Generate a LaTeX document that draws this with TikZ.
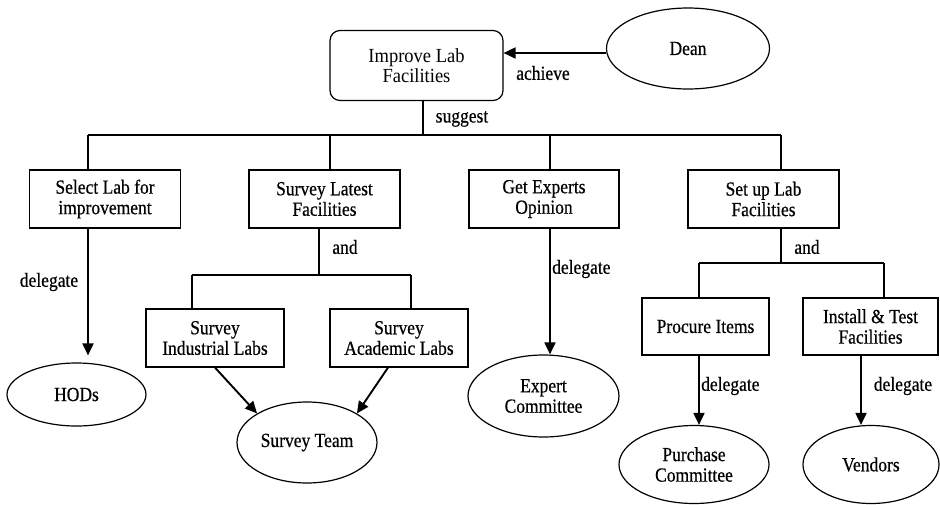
\documentclass[tikz,border=0pt]{standalone}
\usepackage{fontspec}
\setmainfont{Liberation Serif}
\newfontfamily\dfont[FakeStretch=0.875, FakeBold=0.5]{Liberation Serif}
\newfontfamily\rfont[FakeStretch=0.925]{Liberation Serif}
\usetikzlibrary{shapes.geometric,arrows.meta}
\begin{document}
\begin{tikzpicture}[x=1pt,y=-1pt,
  every node/.style={font=\dfont\fontsize{20}{20.5}\selectfont, align=center, inner sep=0pt},
  box/.style={draw, line width=1.2pt, minimum width=151pt, minimum height=58pt},
  oval/.style={draw, ellipse, line width=1.2pt},
  tree/.style={line width=1.2pt},
  arr/.style={line width=1.9pt, -{Triangle[length=12pt,width=11pt]}},
  lbl/.style={}
]
\useasboundingbox (0,0) rectangle (940,504);

% nodes
\node[box, rounded corners=10pt, minimum width=173pt, minimum height=70pt,
      font=\rfont\fontsize{20}{20.5}\selectfont] (root) at (416.5,65.5) {Improve Lab\\Facilities};
\node[oval, minimum width=163pt, minimum height=81pt] (dean) at (688,48.5) {Dean};

\node[box] (sel) at (105,199) {Select Lab for\\improvement};
\node[box] (slf) at (324.5,199) {Survey Latest\\Facilities};
\node[box, minimum width=150pt] (gexp) at (544,199) {Get Experts\\Opinion};
\node[box] (setup) at (763.5,199) {Set up Lab\\Facilities};

\node[box, minimum width=138pt] (ind) at (215,338) {Survey\\Industrial Labs};
\node[box, minimum width=138pt] (acad) at (399,338) {Survey\\Academic Labs};
\node[box, minimum width=127pt, minimum height=57pt] (proc) at (705.5,326.5) {Procure Items};
\node[box, minimum width=135pt, minimum height=57pt] (inst) at (870.5,326.5) {Install \& Test\\Facilities};

\node[oval, minimum width=139pt, minimum height=63pt] (hod) at (76.5,394.5) {HODs};
\node[oval, minimum width=140pt, minimum height=81pt] (team) at (307,442.5) {Survey Team};
\node[oval, minimum width=151pt, minimum height=82pt] (expc) at (543.5,396) {Expert\\Committee};
\node[oval, minimum width=150pt, minimum height=78pt] (purch) at (694,464.5) {Purchase\\Committee};
\node[oval, minimum width=136pt, minimum height=78pt] (vend) at (871,464.5) {Vendors};

% helper coordinates
\coordinate (ach) at (607,53);
\coordinate (b0) at (423,135);
\coordinate (bL) at (88,135);
\coordinate (b2) at (330,135);
\coordinate (b3) at (550,135);
\coordinate (bR) at (781,135);
\coordinate (c0) at (319,275);
\coordinate (cL) at (192,275);
\coordinate (cR) at (411,275);
\coordinate (d0) at (781,263);
\coordinate (dL) at (699,263);
\coordinate (dR) at (884,263);
\coordinate (vx) at (861,0);

% achieve
\draw[arr] (dean.west |- ach) -- (root.east |- ach);
\node[lbl] at (543,73) {achieve};

% suggest tree
\draw[tree] (root.south -| b0) -- (b0);
\draw[tree] (bL) -- (bR);
\draw[tree] (bL) -- (bL |- sel.north);
\draw[tree] (b2) -- (b2 |- slf.north);
\draw[tree] (b3) -- (b3 |- gexp.north);
\draw[tree] (bR) -- (bR |- setup.north);
\node[lbl] at (462,119) {suggest};

% and (survey)
\draw[tree] (slf.south -| c0) -- (c0);
\draw[tree] (cL) -- (cR);
\draw[tree] (cL) -- (cL |- ind.north);
\draw[tree] (cR) -- (cR |- acad.north);
\node[lbl] at (345,247) {and};

% and (set up)
\draw[tree] (setup.south -| d0) -- (d0);
\draw[tree] (dL) -- (dR);
\draw[tree] (dL) -- (dL |- proc.north);
\draw[tree] (dR) -- (dR |- inst.north);
\node[lbl] at (807,247) {and};

% delegations
\draw[arr, shorten >=7pt] (sel.south -| bL) -- (bL |- hod.north);
\node[lbl] at (49,282) {delegate};
\draw[arr] (gexp.south -| b3) -- (b3 |- expc.north);
\node[lbl, anchor=west] at (552,269) {delegate};
\draw[arr] (proc.south -| dL) -- (dL |- purch.north);
\node[lbl, anchor=west] at (701,386) {delegate};
\draw[arr] (inst.south -| vx) -- (vx |- vend.north);
\node[lbl] at (903,386) {delegate};

\draw[arr] (ind.south) -- (team.north west);
\draw[arr] ([xshift=-11pt]acad.south) -- (team.north east);
\end{tikzpicture}
\end{document}
